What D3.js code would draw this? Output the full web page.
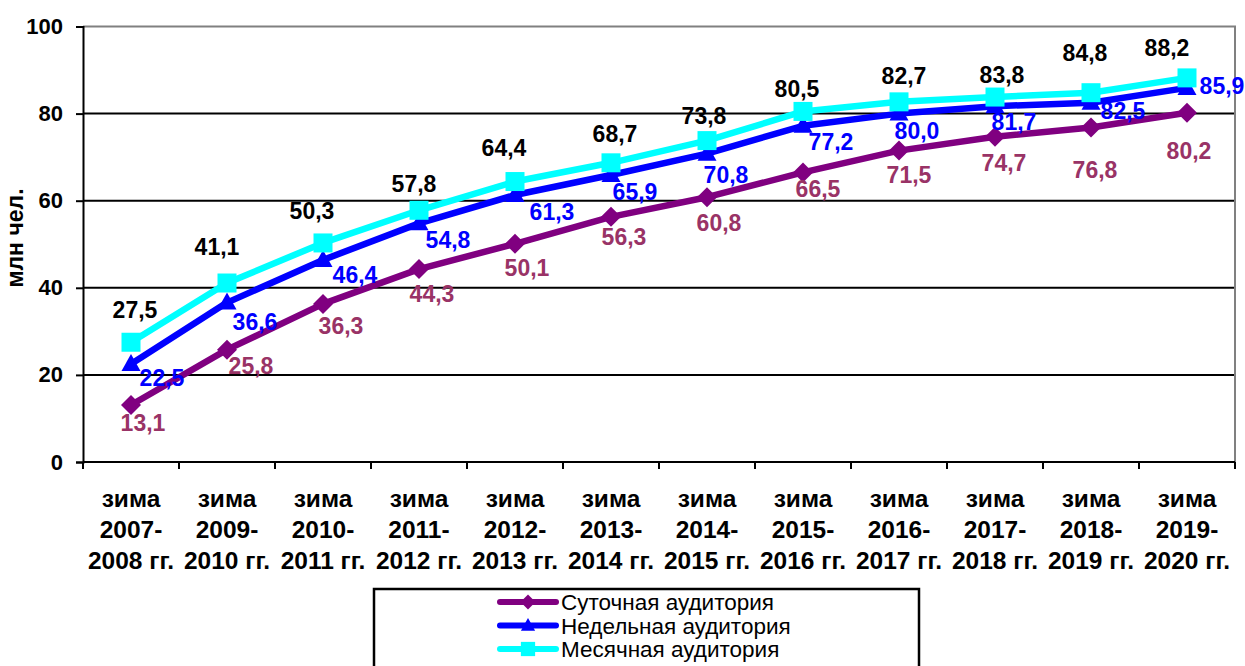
<!DOCTYPE html>
<html>
<head>
<meta charset="utf-8">
<script src="https://cdn.jsdelivr.net/npm/d3@7"></script>
<style>
  html, body { margin: 0; padding: 0; background: #fff; }
  svg text { font-family: "Liberation Sans", Arial, Helvetica, sans-serif; }
</style>
</head>
<body>
<svg id="chart" width="1245" height="666"></svg>
<script>
// Winter seasons
const categories = [
  ["зима", "2007-", "2008 гг."],
  ["зима", "2009-", "2010 гг."],
  ["зима", "2010-", "2011 гг."],
  ["зима", "2011-", "2012 гг."],
  ["зима", "2012-", "2013 гг."],
  ["зима", "2013-", "2014 гг."],
  ["зима", "2014-", "2015 гг."],
  ["зима", "2015-", "2016 гг."],
  ["зима", "2016-", "2017 гг."],
  ["зима", "2017-", "2018 гг."],
  ["зима", "2018-", "2019 гг."],
  ["зима", "2019-", "2020 гг."]
];

// Audience, million people
const dailyAudience   = [13.1, 25.8, 36.3, 44.3, 50.1, 56.3, 60.8, 66.5, 71.5, 74.7, 76.8, 80.2];
const weeklyAudience  = [22.5, 36.6, 46.4, 54.8, 61.3, 65.9, 70.8, 77.2, 80.0, 81.7, 82.5, 85.9];
const monthlyAudience = [27.5, 41.1, 50.3, 57.8, 64.4, 68.7, 73.8, 80.5, 82.7, 83.8, 84.8, 88.2];

const seriesNames = ["Суточная аудитория", "Недельная аудитория", "Месячная аудитория"];
const yTicks = [0, 20, 40, 60, 80, 100];
const yTitle = "млн чел.";

// Hand-placed value label offsets (label centre relative to its point, px)
const dailyLabelNudge = [[12,18],[24,16],[18,22],[13,25],[12,24],[13,20],[12,26],[15,17],[10,24],[9,26],[4,42],[2,38]];
const weeklyLabelNudge = [[31,14],[28,19],[32,15],[29,17],[37,17],[24,17],[19,21],[28,16],[18,17],[19,16],[32,8],[35,-2]];
const monthlyLabelNudge = [[4,-32],[-10,-36],[-11,-32],[-5,-26],[-11,-34],[4,-29],[-3,-25],[-6,-22],[5,-26],[7,-22],[-6,-40],[-20,-30]];

const svg = d3.select("#chart");
const plotLeft = 83, plotRight = 1235, plotTop = 26.5, plotBottom = 462;

const x = d3.scaleBand().domain(d3.range(categories.length)).range([plotLeft, plotRight]);
const y = d3.scaleLinear().domain([0, 100]).range([plotBottom, plotTop]);
const cx = i => x(i) + x.bandwidth() / 2;
const fmt = v => d3.format(".1f")(v).replace(".", ",");

// Horizontal grid
svg.append("g").selectAll("line")
  .data(yTicks.filter(t => t > 0 && t < 100))
  .join("line")
  .attr("x1", plotLeft).attr("x2", plotRight)
  .attr("y1", d => y(d)).attr("y2", d => y(d))
  .attr("stroke", "#000").attr("stroke-width", 2);

// Plot frame: grey top and right edges
svg.append("path")
  .attr("d", `M${plotLeft},${y(100)}H${plotRight}V${plotBottom}`)
  .attr("fill", "none").attr("stroke", "#808080").attr("stroke-width", 2);

// Y axis
const yAxis = svg.append("g")
  .attr("transform", `translate(${plotLeft},0)`)
  .call(d3.axisLeft(y).tickValues(yTicks).tickSize(7).tickPadding(13));
yAxis.select(".domain").attr("stroke", "#000").attr("stroke-width", 2);
yAxis.selectAll(".tick line").attr("stroke", "#000").attr("stroke-width", 2);
yAxis.selectAll(".tick text")
  .attr("font-size", 22).attr("font-weight", "bold").attr("fill", "#000")
  .attr("font-family", "'Liberation Sans', Arial, sans-serif");

// X axis line with ticks between categories
const xAxis = svg.append("g").attr("transform", `translate(0,${plotBottom})`);
xAxis.append("line").attr("x1", plotLeft).attr("x2", plotRight)
  .attr("stroke", "#000").attr("stroke-width", 2);
xAxis.selectAll("line.tk")
  .data(d3.range(categories.length + 1))
  .join("line").attr("class", "tk")
  .attr("x1", i => i < categories.length ? x(i) : plotRight)
  .attr("x2", i => i < categories.length ? x(i) : plotRight)
  .attr("y1", 0).attr("y2", 7)
  .attr("stroke", "#000").attr("stroke-width", 2);

// Category labels (three lines each)
const catText = svg.append("g").selectAll("text")
  .data(categories)
  .join("text")
  .attr("text-anchor", "middle")
  .attr("font-size", 24.5).attr("font-weight", "bold").attr("fill", "#000");
catText.selectAll("tspan")
  .data((d, i) => d.map((s, k) => ({ s, k, i })))
  .join("tspan")
  .attr("x", d => cx(d.i))
  .attr("y", d => 507 + d.k * 31)
  .text(d => d.s);

// Y axis title
svg.append("text")
  .attr("transform", `translate(23,238) rotate(-90)`)
  .attr("text-anchor", "middle")
  .attr("font-size", 23).attr("font-weight", "bold").attr("fill", "#000")
  .text(yTitle);

// Series definitions
const series = [
  { name: seriesNames[0], values: dailyAudience,   nudge: dailyLabelNudge,   color: "#800080", label: "#993366", marker: "diamond" },
  { name: seriesNames[1], values: weeklyAudience,  nudge: weeklyLabelNudge,  color: "#0000FF", label: "#0000FF", marker: "triangle" },
  { name: seriesNames[2], values: monthlyAudience, nudge: monthlyLabelNudge, color: "#00FFFF", label: "#000000", marker: "square" }
];

function markerPath(type, k = 1) {
  if (type === "diamond") return `M0,${-10*k}L${10*k},0L0,${10*k}L${-10*k},0Z`;
  if (type === "triangle") return `M0,${-10*k}L${9.5*k},${7*k}L${-9.5*k},${7*k}Z`;
  return `M${-9.5*k},${-9.5*k}H${9.5*k}V${9.5*k}H${-9.5*k}Z`;
}

const line = d3.line().x((d, i) => cx(i)).y(d => y(d));

series.forEach(s => {
  const g = svg.append("g");
  g.append("path")
    .attr("d", line(s.values))
    .attr("fill", "none").attr("stroke", s.color)
    .attr("stroke-width", 6.5).attr("stroke-linejoin", "round");
  g.selectAll("path.m")
    .data(s.values)
    .join("path").attr("class", "m")
    .attr("transform", (d, i) => `translate(${cx(i)},${y(d)})`)
    .attr("d", markerPath(s.marker))
    .attr("fill", s.color);
});

// Value labels
series.forEach(s => {
  svg.append("g").selectAll("text")
    .data(s.values)
    .join("text")
    .attr("x", (d, i) => cx(i) + s.nudge[i][0])
    .attr("y", (d, i) => y(d) + s.nudge[i][1] + 8)
    .attr("text-anchor", "middle")
    .attr("font-size", 23).attr("font-weight", "bold")
    .attr("fill", s.label)
    .text(d => fmt(d));
});

// Legend
const legend = svg.append("g");
legend.append("rect")
  .attr("x", 374).attr("y", 589).attr("width", 545).attr("height", 100)
  .attr("fill", "#fff").attr("stroke", "#000").attr("stroke-width", 2.5);
series.forEach((s, k) => {
  const ly = 602 + k * 23.5;
  legend.append("line")
    .attr("x1", 500).attr("x2", 556).attr("y1", ly).attr("y2", ly)
    .attr("stroke", s.color).attr("stroke-width", 6).attr("stroke-linecap", "round");
  legend.append("path")
    .attr("transform", `translate(528,${ly})`)
    .attr("d", markerPath(s.marker, 0.75))
    .attr("fill", s.color);
  legend.append("text")
    .attr("x", 561).attr("y", ly + 8)
    .attr("font-size", 22.5).attr("fill", "#000")
    .text(s.name);
});
</script>
</body>
</html>
